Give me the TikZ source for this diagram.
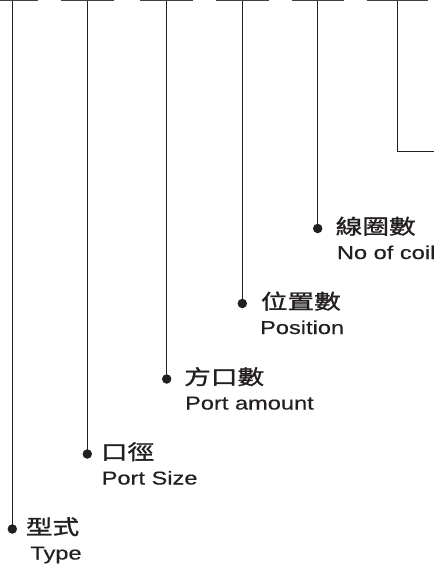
\documentclass[tikz,border=0pt]{standalone}
\usepackage{fontspec}
\newfontfamily\latinf[FakeStretch=1.27,FakeBold=0.4]{Liberation Sans}
\newfontfamily\cjkf[FakeStretch=1.3,FakeBold=1.4]{Noto Sans CJK TC}
\definecolor{ink}{RGB}{35,31,32}
\begin{document}
\begin{tikzpicture}[x=1pt,y=-1pt,
  line/.style={draw=ink,line width=1pt},
  bar/.style={draw=ink!85,line width=1.6pt},
  dot/.style={circle,fill=ink,inner sep=0pt,minimum size=9.5pt},
  cjk/.style={anchor=base west,inner sep=0pt,text=ink,font=\cjkf\fontsize{20.5}{24}\selectfont},
  lat/.style={anchor=base west,inner sep=0pt,text=ink,font=\latinf\fontsize{18.6}{22}\selectfont}]
\useasboundingbox (0,0) rectangle (434,571);
% top bars
\draw[bar] (0,0.5) -- (37.7,0.5);
\draw[bar] (61,0.5) -- (113.7,0.5);
\draw[bar] (140,0.5) -- (192.7,0.5);
\draw[bar] (216,0.5) -- (268.7,0.5);
\draw[bar] (291.7,0.5) -- (344.3,0.5);
\draw[bar] (366.7,0.5) -- (428.3,0.5);
% bar tops
\coordinate (t1) at (12.3,0.5);
\coordinate (t2) at (87.3,0.5);
\coordinate (t3) at (166.7,0.5);
\coordinate (t4) at (242.3,0.5);
\coordinate (t5) at (317.7,0.5);
\coordinate (t6) at (397.7,0.5);
\coordinate (e6) at (434,151.7);
% dots
\node[dot] (d1) at (12.3,529) {};
\node[dot] (d2) at (87.3,454) {};
\node[dot] (d3) at (166.7,379) {};
\node[dot] (d4) at (242.3,303.5) {};
\node[dot] (d5) at (317.7,228.5) {};
% connectors
\draw[line] (t1) -- (d1.center);
\draw[line] (t2) -- (d2.center);
\draw[line] (t3) -- (d3.center);
\draw[line] (t4) -- (d4.center);
\draw[line] (t5) -- (d5.center);
\draw[line] (t6) |- (e6);
% labels
\node[cjk] (c1) at (25.7,534.5) {型式};
\node[lat] (l1) at (30.2,559.5) {Type};
\node[cjk] (c2) at (100.7,459.5) {口徑};
\node[lat] (l2) at (101.5,484.5) {Port Size};
\node[cjk] (c3) at (184,384.5) {方口數};
\node[lat] (l3) at (184.9,409.5) {Port amount};
\node[cjk] (c4) at (260.7,309) {位置數};
\node[lat] (l4) at (259.9,334) {Position};
\node[cjk] (c5) at (335.5,234) {線圈數};
\node[lat] (l5) at (336.7,259) {No of coil};
\end{tikzpicture}
\end{document}
